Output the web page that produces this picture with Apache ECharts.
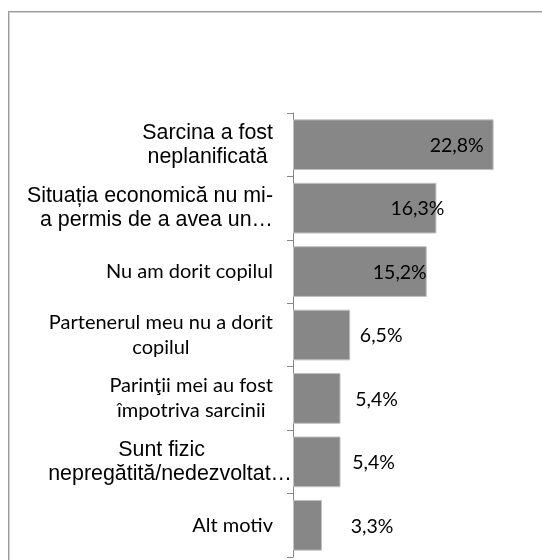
<!DOCTYPE html>
<html>
<head>
<meta charset="utf-8">
<script src="https://cdn.jsdelivr.net/npm/echarts@6/dist/echarts.min.js"></script>
<style>
  html, body { margin: 0; padding: 0; background: #fff; overflow: hidden; }
  #frame { position: absolute; left: 8px; top: 11px; width: 700px; height: 700px;
           border-left: 1px solid #9c9c9c; border-top: 1px solid #9c9c9c;
           box-shadow: inset 1px 1px 0 #d2d2d2; }
  #chart { position: absolute; left: 0; top: 0; width: 542px; height: 560px; }
</style>
</head>
<body>
<div id="frame"></div>
<div id="chart"></div>
<script>
// ---- data ----
const categories = [
  'Sarcina a fost\nneplanificată',
  'Situația economică nu mi-\na permis de a avea un…',
  'Nu am dorit copilul',
  'Partenerul meu nu a dorit\ncopilul',
  'Parinţii mei au fost\nîmpotriva sarcinii',
  'Sunt fizic\nnepregătită/nedezvoltat…',
  'Alt motiv'
];
const values = [22.8, 16.3, 15.2, 6.5, 5.4, 5.4, 3.3];

// ---- styling (not data) ----
const catFont  = ['arial', 'arial', 'calibri', 'calibri', 'calibri', 'arial', 'calibri'];
const catAlign = ['center', 'right', 'right', 'center', 'center', 'special', 'right'];
const labelShift = [[-37, 1], [-19, 1], [-27, 1], [31, 1], [36, 1], [33, 1], [50, 1]];

const ARIAL = '"Liberation Sans", Arial, sans-serif';
const CALI = 'Lato, "Open Sans", sans-serif';

const rich = {
  aC: { fontFamily: ARIAL, fontSize: 21.4, lineHeight: 24, color: '#000', align: 'center' },
  aR: { fontFamily: ARIAL, fontSize: 21.4, lineHeight: 24, color: '#000', align: 'right' },
  cC: { fontFamily: CALI, fontSize: 20, lineHeight: 25, color: '#000', align: 'center' },
  cR: { fontFamily: CALI, fontSize: 20, lineHeight: 25, color: '#000', align: 'right' },
  sp20: { width: 20, align: 'right' },
  sp18: { width: 18, align: 'right' },
  sp1: { width: 1, align: 'right' }
};

function catFormatter(value, index) {
  const lines = value.split('\n');
  const f = catFont[index] === 'arial' ? 'a' : 'c';
  const al = catAlign[index];
  if (al === 'special') {
    return '{' + f + 'C|' + lines[0] + '}{sp18|}\n{' + f + 'R|' + lines[1] + '}{sp1|}';
  }
  const key = f + (al === 'center' ? 'C' : 'R');
  return lines.map(l => '{' + key + '|' + l + '}{sp20|}').join('\n');
}

const chart = echarts.init(document.getElementById('chart'), null, { renderer: 'canvas' });
chart.setOption({
  backgroundColor: 'transparent',
  animation: false,
  grid: { left: 293, top: 113, right: 29, bottom: 3, containLabel: false },
  xAxis: { type: 'value', min: 0, max: 25, show: false },
  yAxis: {
    type: 'category',
    inverse: true,
    data: categories,
    axisLine: { show: true, lineStyle: { color: '#868686', width: 1 } },
    axisTick: { show: true, length: 6, lineStyle: { color: '#868686', width: 1 } },
    axisLabel: { margin: 0, formatter: catFormatter, rich: rich, interval: 0 },
    splitLine: { show: false }
  },
  series: [{
    type: 'bar',
    barCategoryGap: '20%',
    itemStyle: { color: '#878787', borderColor: '#c2c2c2', borderWidth: 1 },
    data: values.map((v, i) => ({
      value: v,
      label: {
        show: true,
        position: 'right',
        distance: 0,
        align: 'center',
        offset: labelShift[i],
        fontFamily: CALI,
        fontSize: 19.5,
        color: '#000',
        formatter: p => p.value.toFixed(1).replace('.', ',') + '%'
      }
    }))
  }]
});
</script>
</body>
</html>
